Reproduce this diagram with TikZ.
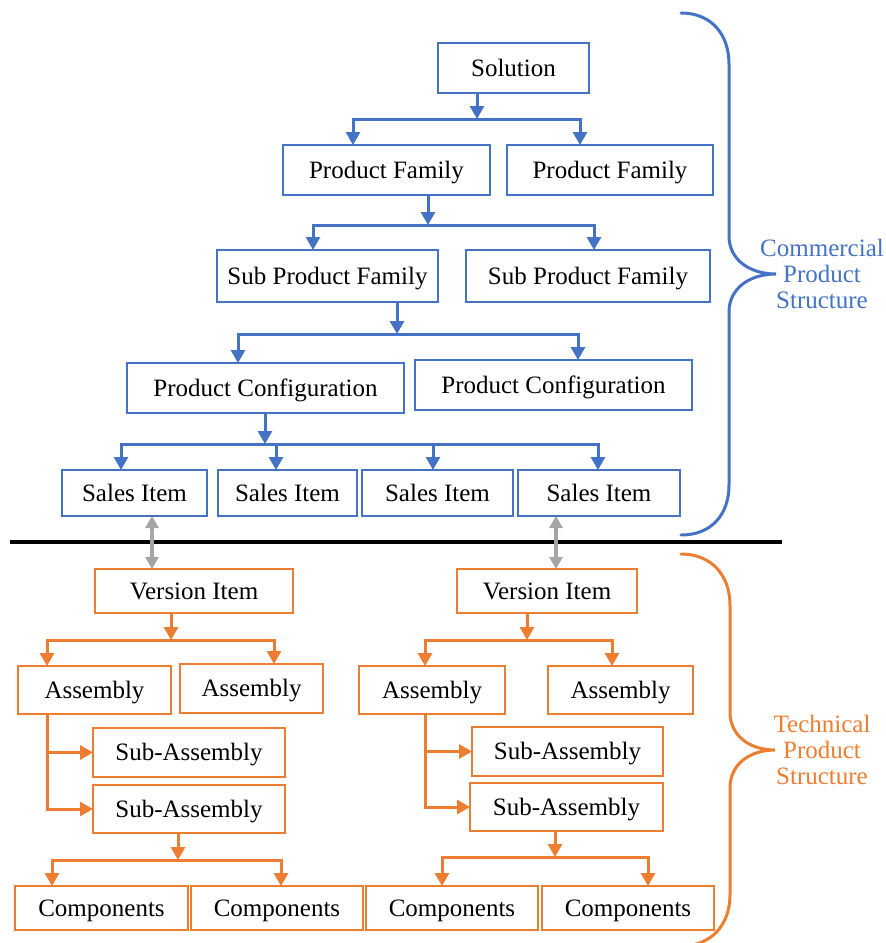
\documentclass[tikz,border=0pt]{standalone}
\usepackage{fontspec}
\setmainfont{Liberation Serif}
\usetikzlibrary{arrows.meta}
\definecolor{cblue}{HTML}{4472C4}
\definecolor{corange}{HTML}{ED7D31}
\definecolor{cgrey}{HTML}{A5A5A5}
\tikzset{
  box/.style={draw, line width=2.6pt, inner sep=0pt, outer sep=0pt,
    text height=16.5pt, text depth=0pt,
    font=\fontsize{25}{28}\selectfont, text=black, fill=white},
  bbox/.style={box, draw=cblue},
  obox/.style={box, draw=corange},
  tip/.style={-{Triangle[width=14pt,length=13pt]}},
  bothtips/.style={{Triangle[width=14pt,length=13pt]}-{Triangle[width=14pt,length=13pt]}},
  bl/.style={draw=cblue, line width=3pt},
  ol/.style={draw=corange, line width=3pt},
  gl/.style={draw=cgrey, line width=4pt,
    {Triangle[width=13pt,length=12pt]}-{Triangle[width=13pt,length=12pt]}},
  brace/.style={line width=3pt, line cap=round},
  bracelabel/.style={align=center, font=\fontsize{25}{26}\selectfont}
}
\begin{document}
\begin{tikzpicture}[x=1pt,y=-1pt]
\useasboundingbox (0,0) rectangle (886,943);

% ---------- commercial product structure ----------
\node[bbox, minimum width=151, minimum height=50] (sol) at (513.5,68) {Solution};
\node[bbox, minimum width=207, minimum height=50] (pf1) at (386.5,170) {Product Family};
\node[bbox, minimum width=206, minimum height=50] (pf2) at (610,170) {Product Family};
\node[bbox, minimum width=221, minimum height=52] (spf1) at (327.5,276) {Sub Product Family};
\node[bbox, minimum width=244, minimum height=52] (spf2) at (588,276) {Sub Product Family};
\node[bbox, minimum width=277, minimum height=50] (pc1) at (265.5,388) {Product Configuration};
\node[bbox, minimum width=277, minimum height=50] (pc2) at (553.5,385) {Product Configuration};
\node[bbox, minimum width=145, minimum height=46] (si1) at (134.5,493) {Sales Item};
\node[bbox, minimum width=139, minimum height=46] (si2) at (287.5,493) {Sales Item};
\node[bbox, minimum width=151, minimum height=46] (si3) at (437.5,493) {Sales Item};
\node[bbox, minimum width=162, minimum height=46] (si4) at (599,493) {Sales Item};

% branching points
\coordinate (s1) at (477,119);
\coordinate (s1l) at (353,119);
\coordinate (s1r) at (580,119);
\coordinate (s2) at (428,225);
\coordinate (s2l) at (313,225);
\coordinate (s2r) at (594,225);
\coordinate (s3) at (397,334);
\coordinate (s3l) at (238,334);
\coordinate (s3r) at (578,334);
\coordinate (s4) at (265,444);
\coordinate (s4a) at (121,444);
\coordinate (s4b) at (276,444);
\coordinate (s4c) at (433,444);
\coordinate (s4d) at (598,444);

\draw[bl, tip] (sol.south -| s1) -- (s1);
\draw[bl, bothtips] (pf1.north -| s1l) -- (s1l) -- (s1r) -- (pf2.north -| s1r);
\draw[bl, tip] (pf1.south -| s2) -- (s2);
\draw[bl, bothtips] (spf1.north -| s2l) -- (s2l) -- (s2r) -- (spf2.north -| s2r);
\draw[bl, tip] (spf1.south -| s3) -- (s3);
\draw[bl, bothtips] (pc1.north -| s3l) -- (s3l) -- (s3r) -- (pc2.north -| s3r);
\draw[bl, tip] (pc1.south -| s4) -- (s4);
\draw[bl, bothtips] (si1.north -| s4a) -- (s4a) -- (s4d) -- (si4.north -| s4d);
\draw[bl, tip] (s4b) -- (si2.north -| s4b);
\draw[bl, tip] (s4c) -- (si3.north -| s4c);

% ---------- divider ----------
\coordinate (dl) at (10,542);
\coordinate (dr) at (782,542);
\draw[line width=3.5pt] (dl) -- (dr);

% ---------- technical product structure ----------
\node[obox, minimum width=198, minimum height=44] (vi1) at (194,591) {Version Item};
\node[obox, minimum width=180, minimum height=44] (vi2) at (547,591) {Version Item};
\node[obox, minimum width=153, minimum height=48] (as1) at (94.5,690) {Assembly};
\node[obox, minimum width=143, minimum height=49] (as2) at (251.5,688.5) {Assembly};
\node[obox, minimum width=146, minimum height=48] (as3) at (432,690) {Assembly};
\node[obox, minimum width=145, minimum height=48] (as4) at (620.5,690) {Assembly};
\node[obox, minimum width=192, minimum height=49] (sa1) at (189,752.5) {Sub-Assembly};
\node[obox, minimum width=192, minimum height=48] (sa2) at (189,809) {Sub-Assembly};
\node[obox, minimum width=191, minimum height=49] (sa3) at (567.5,751.5) {Sub-Assembly};
\node[obox, minimum width=193, minimum height=48] (sa4) at (566.5,807) {Sub-Assembly};
\node[obox, minimum width=173, minimum height=44] (c1) at (101.5,908) {Components};
\node[obox, minimum width=172, minimum height=44] (c2) at (277,908) {Components};
\node[obox, minimum width=172, minimum height=44] (c3) at (452,908) {Components};
\node[obox, minimum width=172, minimum height=44] (c4) at (628,908) {Components};

% links between the two structures
\draw[gl] (si1.south -| 152,0) -- (vi1.north -| 152,0);
\draw[gl] (si4.south -| 556,0) -- (vi2.north -| 556,0);

% branching points
\coordinate (t1) at (171,640);
\coordinate (t1l) at (47,640);
\coordinate (t1r) at (274,640);
\coordinate (t2) at (527,640);
\coordinate (t2l) at (425,640);
\coordinate (t2r) at (612,640);
\coordinate (v1) at (47,714);
\coordinate (v2) at (425,714);
\coordinate (t3) at (178,860);
\coordinate (t3l) at (52,860);
\coordinate (t3r) at (281,860);
\coordinate (t4) at (555,857);
\coordinate (t4l) at (442,857);
\coordinate (t4r) at (648,857);

\draw[ol, tip] (vi1.south -| t1) -- (t1);
\draw[ol, bothtips] (as1.north -| t1l) -- (t1l) -- (t1r) -- (as2.north -| t1r);
\draw[ol, tip] (vi2.south -| t2) -- (t2);
\draw[ol, bothtips] (as3.north -| t2l) -- (t2l) -- (t2r) -- (as4.north -| t2r);

\draw[ol, tip] (as1.south -| v1) -- (v1 |- sa2.west) -- (sa2.west);
\draw[ol, tip] (v1 |- sa1.west) -- (sa1.west);
\draw[ol, tip] (as3.south -| v2) -- (v2 |- sa4.west) -- (sa4.west);
\draw[ol, tip] (v2 |- sa3.west) -- (sa3.west);

\draw[ol, tip] (sa2.south -| t3) -- (t3);
\draw[ol, bothtips] (c1.north -| t3l) -- (t3l) -- (t3r) -- (c2.north -| t3r);
\draw[ol, tip] (sa4.south -| t4) -- (t4);
\draw[ol, bothtips] (c3.north -| t4l) -- (t4l) -- (t4r) -- (c4.north -| t4r);

% ---------- braces and their labels ----------
\draw[brace, cblue] (681,13) .. controls (712,13) and (729,35) .. (729,64)
  -- (729,236) .. controls (729,260) and (750,274) .. (776,274)
  .. controls (750,274) and (729,288) .. (729,312)
  -- (729,485) .. controls (729,514) and (712,535) .. (681,535);
\node[bracelabel, text=cblue] (cps) at (822,274) {Commercial\\Product\\Structure};

\draw[brace, corange] (681,554) .. controls (712,554) and (730,576) .. (730,605)
  -- (730,712) .. controls (730,736) and (750,750) .. (775,750)
  .. controls (750,750) and (730,764) .. (730,788)
  -- (730,895) .. controls (730,924) and (712,946) .. (681,946);
\node[bracelabel, text=corange] (tps) at (822,750) {Technical\\Product\\Structure};
\end{tikzpicture}
\end{document}
